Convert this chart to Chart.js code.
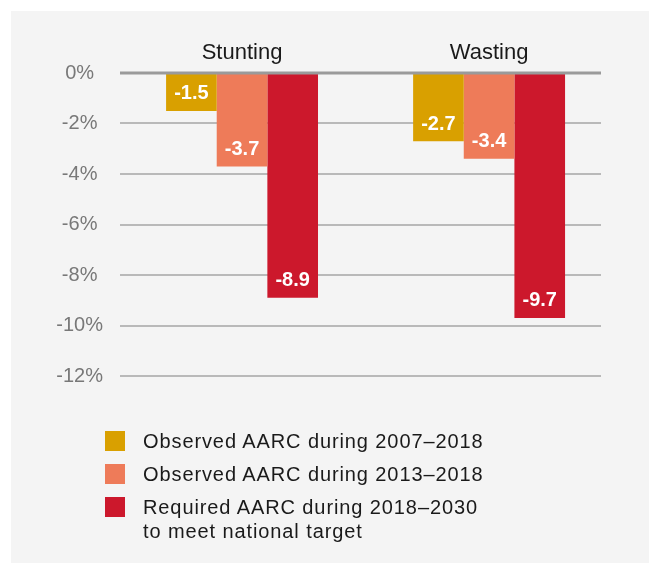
<!DOCTYPE html>
<html>
<head>
<meta charset="utf-8">
<script src="https://cdn.jsdelivr.net/npm/chart.js@4/dist/chart.umd.min.js"></script>
<style>
  html, body { margin: 0; padding: 0; background: #ffffff; }
  #wrap { position: relative; width: 649px; height: 563px; overflow: hidden; }
  #panel { position: absolute; left: 11px; top: 11px; width: 638px; height: 552px; background: #f4f4f4; }
  #c { position: absolute; left: 0; top: 0; }
  #legend { position: absolute; left: 105px; top: 429px; font-family: "Liberation Sans", Arial, sans-serif; font-size: 20px; color: #1a1a1a; letter-spacing: 0.9px; }
  .item { display: flex; align-items: flex-start; margin-bottom: 9px; }
  .sw { width: 20px; height: 20px; margin-top: 2px; margin-right: 18px; flex: none; }
  .txt { line-height: 24px; white-space: nowrap; }
</style>
</head>
<body>
<div id="wrap">
  <div id="panel"></div>
  <canvas id="c" width="649" height="563"></canvas>
  <div id="legend"></div>
</div>
<script>
// ---- data ----
const categories = ["Stunting", "Wasting"];
const seriesLabels = [
  ["Observed AARC during 2007\u20132018"],
  ["Observed AARC during 2013\u20132018"],
  ["Required AARC during 2018\u20132030", "to meet national target"]
];
const observed2007_2018 = [-1.5, -2.7];
const observed2013_2018 = [-3.7, -3.4];
const required2018_2030 = [-8.9, -9.7];
const yTicks = [0, -2, -4, -6, -8, -10, -12];
const colors = ["#d9a000", "#ee7b59", "#cc182c"];

const seriesValues = [observed2007_2018, observed2013_2018, required2018_2030];

const datasets = seriesValues.map((vals, s) => ({
  label: seriesLabels[s].join(" "),
  data: vals.map((v, i) => ({ x: i, y: v })),
  backgroundColor: colors[s],
  borderWidth: 0,
  barPercentage: 1.0,
  categoryPercentage: 0.615
}));

// legend (HTML)
const legendEl = document.getElementById("legend");
seriesLabels.forEach((lines, s) => {
  const it = document.createElement("div");
  it.className = "item";
  const sw = document.createElement("div");
  sw.className = "sw";
  sw.style.background = colors[s];
  const tx = document.createElement("div");
  tx.className = "txt";
  lines.forEach((ln, k) => {
    if (k) tx.appendChild(document.createElement("br"));
    tx.appendChild(document.createTextNode(ln));
  });
  it.appendChild(sw);
  it.appendChild(tx);
  legendEl.appendChild(it);
});

const valueLabels = {
  id: "valueLabels",
  afterDatasetsDraw(chart) {
    const ctx = chart.ctx;
    const ys = chart.scales.y;
    const y0 = ys.getPixelForValue(0);
    ctx.save();
    ctx.strokeStyle = "#9a9a9a";
    ctx.lineWidth = 3;
    ctx.beginPath();
    ctx.moveTo(chart.chartArea.left, y0);
    ctx.lineTo(chart.chartArea.right, y0);
    ctx.stroke();
    ctx.fillStyle = "#ffffff";
    ctx.font = "bold 20px 'Liberation Sans', Arial, sans-serif";
    ctx.textAlign = "center";
    ctx.textBaseline = "middle";
    chart.data.datasets.forEach((ds, di) => {
      const meta = chart.getDatasetMeta(di);
      meta.data.forEach((el, i) => {
        const v = ds.data[i].y;
        ctx.fillText(v.toFixed(1), el.x, el.y - 17);
      });
    });
    ctx.restore();
  }
};

new Chart(document.getElementById("c"), {
  type: "bar",
  data: { datasets },
  options: {
    responsive: false,
    animation: false,
    layout: { padding: { left: 0, right: 48, top: 0, bottom: 187 } },
    plugins: { legend: { display: false }, tooltip: { enabled: false } },
    scales: {
      x: {
        type: "linear",
        position: "top",
        offset: false,
        min: -0.494,
        max: 1.453,
        afterBuildTicks: (scale) => { scale.ticks = categories.map((c, i) => ({ value: i })); },
        afterFit: (scale) => { scale.height = 73; },
        grid: { display: false, drawTicks: false, offset: false },
        border: { display: false },
        ticks: {
          callback: (v) => categories[v],
          font: { family: "'Liberation Sans', Arial, sans-serif", size: 22 },
          color: "#1a1a1a",
          padding: 7,
          maxRotation: 0,
          autoSkip: false
        }
      },
      y: {
        min: -12,
        max: 0,
        afterBuildTicks: (scale) => { scale.ticks = yTicks.map(v => ({ value: v })); },
        afterFit: (scale) => { scale.width = 120; },
        grid: {
          drawTicks: false,
          color: (c) => c.tick && c.tick.value === 0 ? "rgba(0,0,0,0)" : "#b9b9b9",
          lineWidth: 2
        },
        border: { display: false },
        ticks: {
          callback: (v) => v + "%",
          font: { family: "'Liberation Sans', Arial, sans-serif", size: 20 },
          color: "#787878",
          padding: 17,
          crossAlign: "center"
        }
      }
    }
  },
  plugins: [valueLabels]
});
</script>
</body>
</html>
